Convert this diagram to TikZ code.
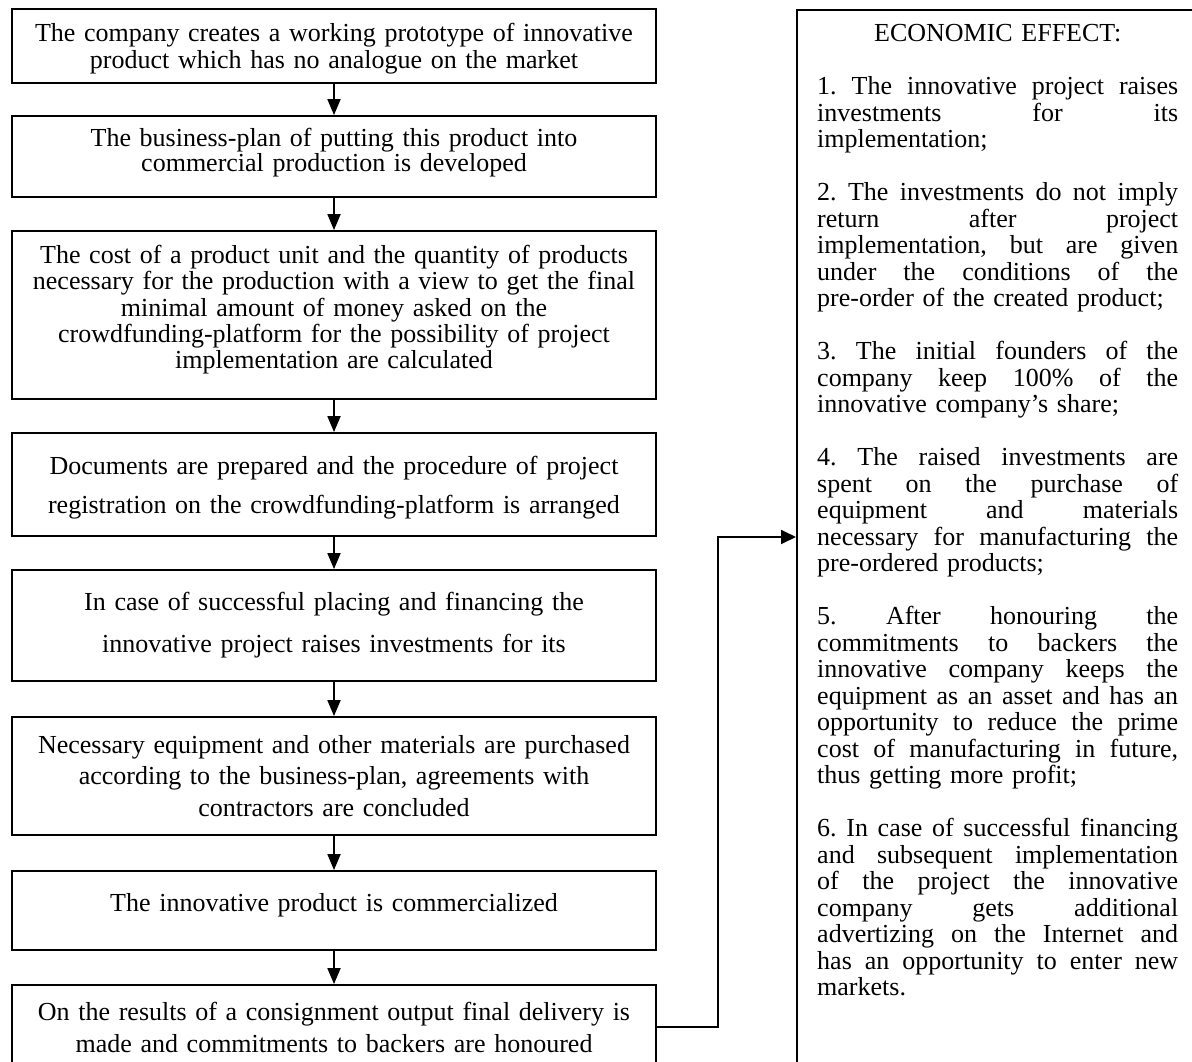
\documentclass[tikz,border=0pt]{standalone}
\usepackage{fontspec}
\setmainfont{Liberation Serif}
\usetikzlibrary{arrows.meta}
\newcommand{\jl}[1]{{\spaceskip=0.25em plus 1fil\xspaceskip=0.25em plus 1fil\makebox[361pt][s]{#1}}}
\begin{document}
\begin{tikzpicture}[x=1pt,y=-1pt,
  flow/.style={draw, line width=1.8pt, minimum width=644pt, inner sep=0pt,
    text width=640pt, align=center},
  conn/.style={line width=1.8pt, -{Triangle[length=16pt,width=13pt]}},
  link/.style={line width=1.8pt, -{Triangle[length=15pt,width=14pt]}}
]
\useasboundingbox (0,0) rectangle (1192,1062);
\clip (0,0) rectangle (1192,1062);

\node[flow, minimum height=74pt, text depth=28pt, font={\fontsize{26pt}{27pt}\selectfont}] (b1) at (334,46)
  {The company creates a working prototype of innovative\\product which has no analogue on the market};
\node[flow, minimum height=81pt, text depth=38pt, font={\fontsize{26pt}{25pt}\selectfont}] (b2) at (334,156.5)
  {The business-plan of putting this product into\\commercial production is developed};
\node[flow, minimum height=168pt, text depth=121pt, font={\fontsize{26pt}{26.25pt}\selectfont}] (b3) at (334,315)
  {The cost of a product unit and the quantity of products\\necessary for the production with a view to get the final\\minimal amount of money asked on the\\crowdfunding-platform for the possibility of project\\implementation are calculated};
\node[flow, minimum height=103pt, text depth=38.6pt, font={\fontsize{26pt}{39pt}\selectfont}] (b4) at (334,484.5)
  {Documents are prepared and the procedure of project\\registration on the crowdfunding-platform is arranged};
\node[flow, minimum height=111pt, font={\fontsize{26pt}{42pt}\selectfont}] (b5) at (334,625.5)
  {In case of successful placing and financing the\\innovative project raises investments for its};
\node[flow, minimum height=118pt, font={\fontsize{26pt}{31.5pt}\selectfont}] (b6) at (334,776)
  {Necessary equipment and other materials are purchased\\according to the business-plan, agreements with\\contractors are concluded};
\node[flow, minimum height=79pt, text depth=15.7pt, font={\fontsize{26pt}{27pt}\selectfont}] (b7) at (334,910.5)
  {The innovative product is commercialized};
\node[flow, minimum height=84pt, font={\fontsize{26pt}{32pt}\selectfont}] (b8) at (334,1027)
  {On the results of a consignment output final delivery is\\made and commitments to backers are honoured};

\draw[conn] (b1.south) -- (b2.north);
\draw[conn] (b2.south) -- (b3.north);
\draw[conn] (b3.south) -- (b4.north);
\draw[conn] (b4.south) -- (b5.north);
\draw[conn] (b5.south) -- (b6.north);
\draw[conn] (b6.south) -- (b7.north);
\draw[conn] (b7.south) -- (b8.north);

\node[draw, line width=1.8pt, anchor=north west, minimum width=420pt, minimum height=1080pt, inner sep=0pt] (econ) at (796,9) {};
\node[anchor=north west, inner sep=0pt, text width=361pt, align=left,
  font={\fontsize{26pt}{26.5pt}\selectfont\frenchspacing}] (econtext) at (817,24.5)
  {\makebox[361pt][c]{ECONOMIC EFFECT:}\\[26.5pt]
   \jl{1. The innovative project raises}\\
   \jl{investments for its}\\
   implementation;\\[26.5pt]
   \jl{2. The investments do not imply}\\
   \jl{return after project}\\
   \jl{implementation, but are given}\\
   \jl{under the conditions of the}\\
   pre-order of the created product;\\[26.5pt]
   \jl{3. The initial founders of the}\\
   \jl{company keep 100\% of the}\\
   innovative company’s share;\\[26.5pt]
   \jl{4. The raised investments are}\\
   \jl{spent on the purchase of}\\
   \jl{equipment and materials}\\
   \jl{necessary for manufacturing the}\\
   pre-ordered products;\\[26.5pt]
   \jl{5. After honouring the}\\
   \jl{commitments to backers the}\\
   \jl{innovative company keeps the}\\
   \jl{equipment as an asset and has an}\\
   \jl{opportunity to reduce the prime}\\
   \jl{cost of manufacturing in future,}\\
   thus getting more profit;\\[26.5pt]
   \jl{6. In case of successful financing}\\
   \jl{and subsequent implementation}\\
   \jl{of the project the innovative}\\
   \jl{company gets additional}\\
   \jl{advertizing on the Internet and}\\
   \jl{has an opportunity to enter new}\\
   markets.};

\coordinate (turn) at (718,537);
\draw[link] (b8.east) -| (turn) -- (turn -| econ.west);
\end{tikzpicture}
\end{document}
